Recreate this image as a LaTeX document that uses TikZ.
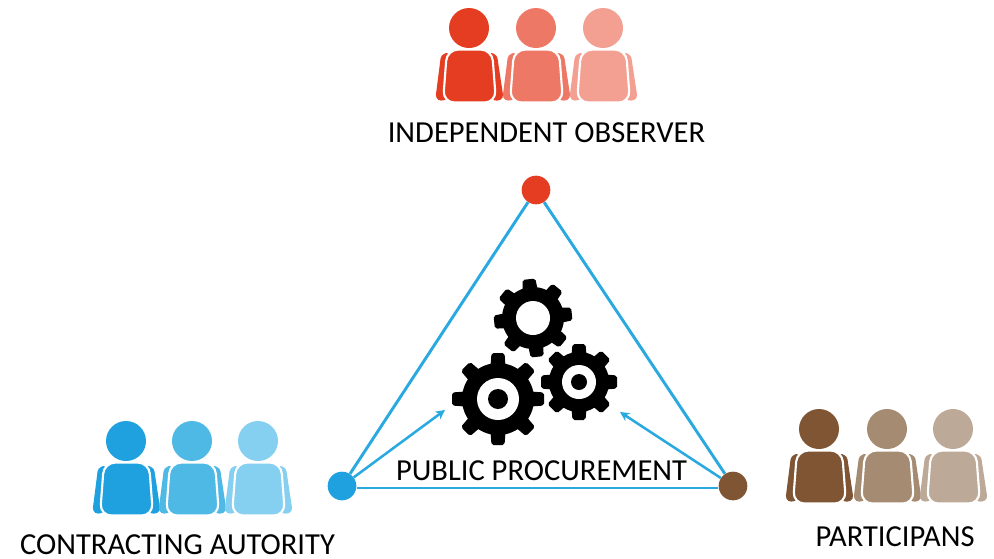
\documentclass[tikz,border=0pt]{standalone}
\usepackage{fontspec}
\setmainfont{Carlito}
\usetikzlibrary{arrows.meta}
\definecolor{rA}{HTML}{E53D21}\definecolor{rB}{HTML}{EE7866}\definecolor{rC}{HTML}{F3A092}
\definecolor{bA}{HTML}{1FA1DF}\definecolor{bB}{HTML}{4FB9E6}\definecolor{bC}{HTML}{85D0F0}
\definecolor{nA}{HTML}{7F5533}\definecolor{nB}{HTML}{A58B72}\definecolor{nC}{HTML}{BDA998}
\definecolor{linkc}{HTML}{29A9E0}
\tikzset{
  x=0.75pt,y=-0.75pt,
  lab/.style={font=\fontsize{22.9pt}{26pt}\selectfont,text=black,inner sep=0pt},
  dot/.style={circle,minimum size=21.5pt,inner sep=0pt,fill=#1},
  linkline/.style={draw=linkc,line width=2.2pt},
  linkarrow/.style={draw=linkc,line width=1.9pt,-{Stealth[length=7pt,width=7pt]}},
  person/.pic={
    \fill[pic actions] (0,0) circle (20);
    \fill[pic actions,rounded corners=2.5pt] (-28,27) -- (-20,24) -- (-20,70) -- (-28,73.5) -- (-33.5,70) -- cycle;
    \fill[pic actions,rounded corners=2.5pt] (20,24) -- (28,27) -- (34.5,70) -- (28,73.5) -- (20,70) -- cycle;
    \path[pic actions,draw=white,line width=1.6pt,rounded corners=8.5pt] (-22,21.5) -- (23,21.5) -- (27,74.5) -- (-26,74.5) -- cycle;
  },
  pics/gear/.style args={#1/#2/#3/#4/#5}{code={
    \fill[black] (0,0) circle (#2);
    \foreach \a in {0,45,...,315}
      \fill[black,rotate=\a+#5,rounded corners=1.5pt] (#2-3,-7.5) -- (#1,-6.5) -- (#1,6.5) -- (#2-3,7.5) -- cycle;
    \fill[white] (0,0) circle (#3);
    \fill[black] (0,0) circle (#4);
  }}
}
\begin{document}
\begin{tikzpicture}
\useasboundingbox (0,0) rectangle (994,558);
% people
\foreach \xx/\cc in {469/rA,536/rB,603/rC} \pic[fill=\cc] at (\xx,28) {person};
\foreach \xx/\cc in {126/bA,192/bB,258/bC} \pic[fill=\cc] at (\xx,441) {person};
\foreach \xx/\cc in {819/nA,887/nB,953/nC} \pic[fill=\cc] at (\xx,429) {person};
% gears
\pic at (533,318) {gear=39/31/17/0/6};
\pic at (498,399) {gear=46/36/21/10/0};
\pic at (579,382) {gear=38/30/17/8/0};
% dots
\node[dot=rA] (obs) at (536,190) {};
\node[dot=bA] (aut) at (342,486) {};
\node[dot=nA] (par) at (733,486) {};
\coordinate (tipA) at (445,410);
\coordinate (tipB) at (620,412);
% links
\draw[linkline] (aut) -- (obs);
\draw[linkline] (par) -- (obs);
\draw[linkline] ([yshift=-1.5pt]aut.east) -- ([yshift=-1.5pt]par.west);
\draw[linkarrow] (aut) -- (tipA);
\draw[linkarrow] (par) -- (tipB);
% labels
\node[lab] (t1) at (546.5,133) {INDEPENDENT OBSERVER};
\node[lab] (t2) at (541.5,471) {PUBLIC PROCUREMENT};
\node[lab] (t3) at (177.5,544.5) {CONTRACTING AUTORITY};
\node[lab] (t4) at (895,537) {PARTICIPANS};
\end{tikzpicture}
\end{document}
